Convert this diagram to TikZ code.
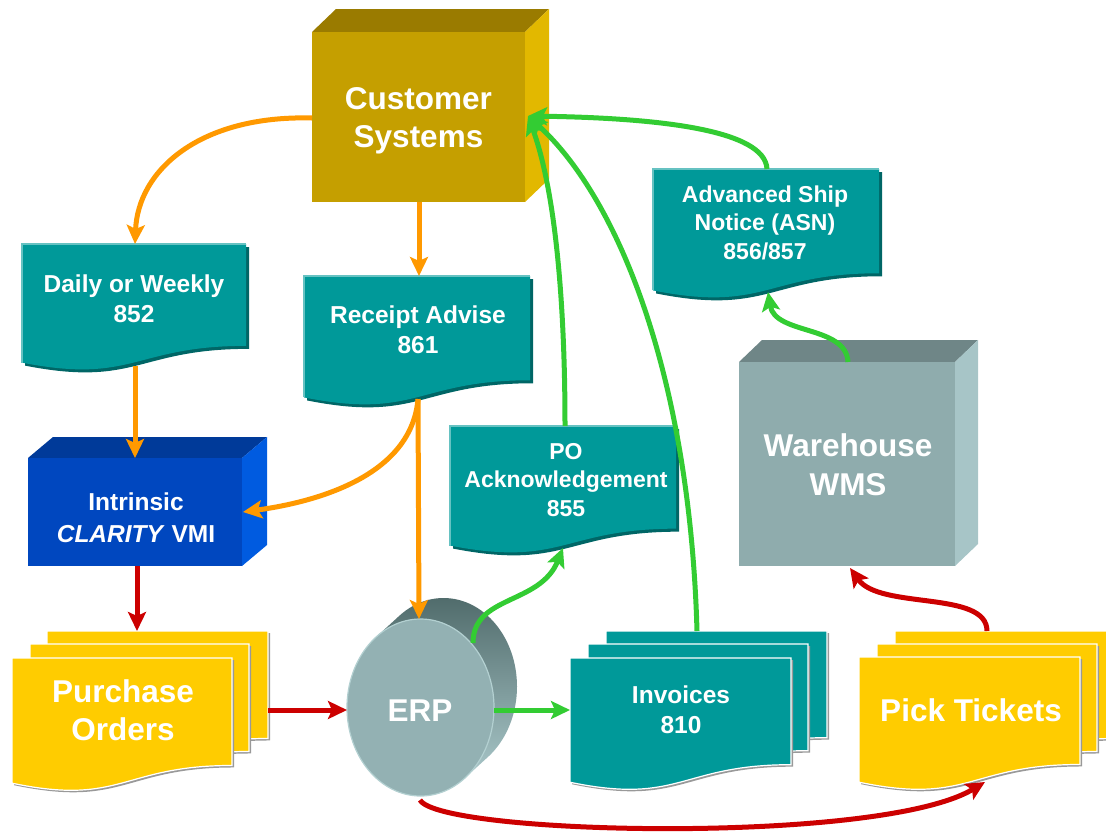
\documentclass[tikz,border=0pt]{standalone}
\usepackage{fontspec}
\setmainfont{Liberation Sans}
\usetikzlibrary{arrows.meta}
\definecolor{csfront}{HTML}{C59F00}
\definecolor{cstop}{HTML}{9A7B00}
\definecolor{csside}{HTML}{E2B800}
\definecolor{clfront}{HTML}{0047BF}
\definecolor{cltop}{HTML}{003A99}
\definecolor{clside}{HTML}{005BE0}
\definecolor{whfront}{HTML}{8FACAD}
\definecolor{whtop}{HTML}{6F8687}
\definecolor{whside}{HTML}{A7C5C7}
\definecolor{tealc}{HTML}{009999}
\definecolor{tealdk}{HTML}{006666}
\definecolor{teallt}{HTML}{66C2C2}
\definecolor{yel}{HTML}{FFCC00}
\definecolor{orng}{HTML}{FF9900}
\definecolor{grn}{HTML}{33CC33}
\definecolor{rd}{HTML}{CC0000}
\definecolor{erpfront}{HTML}{93B1B3}
\definecolor{erpedge}{HTML}{B3D0D1}
\definecolor{erpdark}{HTML}{516C6C}
\definecolor{erplight}{HTML}{A9C7C9}
\definecolor{shgray}{HTML}{999999}

% 3D box: x1 y1 x2 y2 dx dy front top side
\newcommand\boxthree[9]{%
  \fill[#8] (#1,#2) -- ({#1+#5},{#2+#6}) -- ({#3+#5},{#2+#6}) -- (#3,#2) -- cycle;
  \fill[#9] (#3,#2) -- ({#3+#5},{#2+#6}) -- ({#3+#5},{#4+#6}) -- (#3,#4) -- cycle;
  \fill[#7] (#1,#2) rectangle (#3,#4);}
% single teal document: L T W H
\newcommand\tealdoc[4]{%
  \fill[tealdk,shift={(3,3)},docp={#1}{#2}{#3}{#4}];
  \fill[tealc,docp={#1}{#2}{#3}{#4}];
  \draw[teallt,line width=1.2pt] (#1,{#2+0.934*#4}) -- (#1,#2) -- ({#1+#3},#2);}
% stacked sheet: L T W H fill
\newcommand\stacksheet[5]{%
  \fill[shgray,shift={(2,2)},docp={#1}{#2}{#3}{#4}];
  \filldraw[fill=#5,draw=white,line width=1.2pt,docp={#1}{#2}{#3}{#4}];}

\begin{document}
\begin{tikzpicture}[x=1pt,y=-1pt,
  docp/.style n args={4}{insert path={(#1,#2) -- ({#1+#3},#2) -- ({#1+#3},{#2+0.802*#4})
     .. controls ({#1+0.5*#3},{#2+0.802*#4}) and ({#1+0.5*#3},{#2+1.107*#4}) .. (#1,{#2+0.934*#4}) -- cycle}},
  txt/.style={text=white, align=center, inner sep=0pt},
  bigtxt/.style={txt, font=\fontsize{31.5}{38}\selectfont\bfseries},
  doctxt/.style={txt, font=\fontsize{24.5}{30}\selectfont\bfseries},
  smalltxt/.style={txt, font=\fontsize{23}{28.5}\selectfont\bfseries},
  arr/.style={line width=5pt, -{Stealth[length=19pt,width=18pt,inset=4pt]}},
  oarr/.style={arr, draw=orng},
  garr/.style={arr, draw=grn},
  rarr/.style={arr, draw=rd}]
\useasboundingbox (0,0) rectangle (1106,836);
\clip (0,0) rectangle (1106,836);

% ---- shapes ----
\boxthree{312}{32}{525}{202}{24}{-23}{csfront}{cstop}{csside}
\boxthree{28}{458}{242}{566}{25}{-21}{clfront}{cltop}{clside}
\boxthree{739}{362}{955}{566}{23}{-22}{whfront}{whtop}{whside}

\tealdoc{22}{244}{224}{127}
\tealdoc{304}{276}{226}{130}
\tealdoc{450}{426}{226}{128}
\tealdoc{653}{169}{226}{130}

\stacksheet{47}{631}{221}{134}{yel}
\stacksheet{30}{644}{219}{134}{yel}
\stacksheet{12}{658}{220}{134}{yel}

\stacksheet{606}{631}{221}{133}{tealc}
\stacksheet{588}{644}{220}{133}{tealc}
\stacksheet{570}{658}{221}{133}{tealc}

\stacksheet{895}{631}{221}{134}{yel}
\stacksheet{877}{644}{220}{134}{yel}
\stacksheet{859}{657}{221}{134}{yel}

% ERP cylinder
\shade[top color=erpdark, bottom color=erplight]
  (464.9,778) -- (487.9,757) -- (399.1,616) -- (376.1,637) -- cycle
  (443.5,686.5) ellipse [x radius=73.5pt, y radius=88.5pt];
\filldraw[fill=erpfront, draw=erpedge, line width=1.2pt] (420.5,707.5) ellipse [x radius=73.5pt, y radius=88.5pt];

% ---- texts ----
\node[bigtxt] (cs) at (418.5,120.3) {Customer\\Systems};
\node[doctxt] (dl) at (134,298.3) {Daily or Weekly\\852};
\node[doctxt] (ra) at (418,329.3) {Receipt Advise\\861};
\node[smalltxt] (pa) at (566,479.7) {PO\\Acknowledgement\\855};
\node[smalltxt] (asn) at (765,222.8) {Advanced Ship\\Notice (ASN)\\856/857};
\node[txt, font=\fontsize{24.5}{32}\selectfont\bfseries] (cl) at (136,517.3) {Intrinsic\\\textit{CLARITY} VMI};
\node[bigtxt] (po) at (123,710.7) {Purchase\\Orders};
\node[bigtxt] (erp) at (420,710.7) {ERP};
\node[doctxt] (inv) at (681,709.3) {Invoices\\810};
\node[bigtxt] (pk) at (971,710.7) {Pick Tickets};
\node[txt, font=\fontsize{31.5}{39}\selectfont\bfseries] (wh) at (848,465.2) {Warehouse\\WMS};

% ---- connector end points ----
\coordinate (cs-w) at (312,118);
\coordinate (cs-s) at (419,202);
\coordinate (cs-e) at (528,116);
\coordinate (dl-n) at (135,244);
\coordinate (dl-s) at (135,366);
\coordinate (ra-n) at (419,276);
\coordinate (ra-s) at (418,399);
\coordinate (cl-n) at (135,458);
\coordinate (cl-e) at (243,512);
\coordinate (cl-s) at (137,566);
\coordinate (po-n) at (137,631);
\coordinate (po-e) at (268,710);
\coordinate (erp-n) at (419,619);
\coordinate (erp-w) at (347,710);
\coordinate (erp-e) at (494,710);
\coordinate (erp-ne) at (473,643);
\coordinate (erp-s) at (420,800);
\coordinate (inv-w) at (570,710);
\coordinate (inv-n) at (697,631);
\coordinate (pa-s) at (563,548);
\coordinate (pa-n) at (565,426);
\coordinate (asn-n) at (767,169);
\coordinate (asn-s) at (768,292);
\coordinate (wh-n) at (848,362);
\coordinate (wh-s) at (850,568);
\coordinate (pk-n) at (987,631);
\coordinate (pk-s) at (985,782);

% ---- connectors ----
\draw[oarr] (cs-w) .. controls (200,115) and (138,170) .. (dl-n);
\draw[oarr] (cs-s) -- (ra-n);
\draw[oarr] (dl-s) -- (cl-n);
\draw[oarr] (ra-s) .. controls (412,470) and (330,500) .. (cl-e);
\draw[oarr] (ra-s) -- (erp-n);
\draw[rarr] (cl-s) -- (po-n);
\draw[rarr] (po-e) -- (erp-w);
\draw[garr] (erp-e) -- (inv-w);
\draw[garr] (erp-ne) .. controls (473,595) and (540,605) .. (pa-s);
\draw[garr] (pa-n) .. controls (565,300) and (555,190) .. (cs-e);
\draw[garr] (inv-n) .. controls (690,380) and (620,200) .. (cs-e);
\draw[garr] (asn-n) .. controls (765,130) and (660,118) .. (cs-e);
\draw[garr] (wh-n) .. controls (846,325) and (775,335) .. (asn-s);
\draw[rarr] (pk-n) .. controls (987,590) and (880,610) .. (wh-s);
\draw[rarr] (erp-s) .. controls (440,835) and (880,845) .. (pk-s);
\end{tikzpicture}
\end{document}
